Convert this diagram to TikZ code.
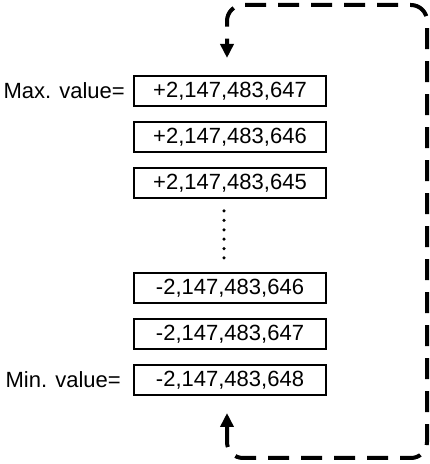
\documentclass[tikz,border=0pt]{standalone}
\usepackage{fontspec}
\setmainfont{Liberation Sans}
\usetikzlibrary{arrows.meta,calc,positioning}

\begin{document}
\begin{tikzpicture}[
  x=1pt, y=1pt,
  every node/.style={font=\fontsize{22}{26}\selectfont, inner sep=0pt},
  cell/.style={draw, line width=2pt, minimum width=192pt, minimum height=30pt},
  lbl/.style={anchor=east},
  wrap/.style={line width=4pt, dash pattern=on 21pt off 12pt, rounded corners=16pt},
  node distance=14pt,
  >={Triangle[width=13pt,length=14pt]}
]
\useasboundingbox (0,0) rectangle (430,464);

\node[cell] (maxv) at (230,373) {+2,147,483,647};
\node[cell, below=of maxv] (p646) {+2,147,483,646};
\node[cell, below=of p646] (p645) {+2,147,483,645};
\node[cell, below=73pt of p645] (m646) {-2,147,483,646};
\node[cell, below=of m646] (m647) {-2,147,483,647};
\node[cell, below=of m647] (minv) {-2,147,483,648};

\node[lbl, left=8pt of maxv] (maxlbl) {Max. value=};
\node[lbl, left=12pt of minv] (minlbl) {Min. value=};

\draw[line width=3.5pt, line cap=round, dash pattern=on 0pt off 9.4pt]
  ([xshift=-6pt,yshift=-12pt]p645.south) -- ([xshift=-6pt,yshift=14pt]m646.north);

\coordinate (br) at (427,6);
\coordinate (tr) at (427,459);
\draw[wrap, <->]
  ([xshift=-3pt,yshift=-17pt]minv.south) -- ([xshift=-3pt]minv.south |- br) -- (br)
  -- (tr) -- ([xshift=-3pt]maxv.north |- tr) -- ([xshift=-3pt,yshift=17pt]maxv.north);
\end{tikzpicture}
\end{document}
